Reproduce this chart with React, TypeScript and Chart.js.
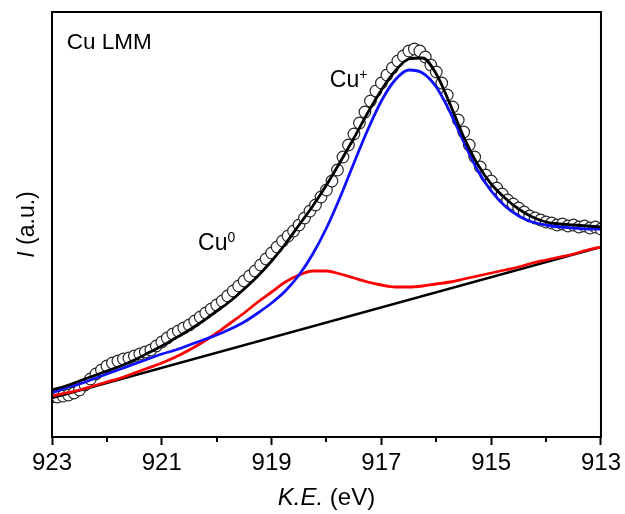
import React, { useEffect, useRef } from "react";
import { Chart, registerables } from "chart.js";

Chart.register(...registerables);

const FONT = "'Liberation Sans', Arial, Helvetica, sans-serif";

// ---- axis ----
const X_MIN = 913;
const X_MAX = 923;
const Y_MIN = 0;
const Y_MAX = 425;
const MAJOR_TICKS = [923, 921, 919, 917, 915, 913];
const MINOR_TICKS = [922, 920, 918, 916, 914];

// ---- fitted curves, sampled every 0.25 eV from 923 to 913 ----
const LINE_ENERGIES = [
  923, 922.75, 922.5, 922.25, 922, 921.75, 921.5, 921.25, 921, 920.75,
  920.5, 920.25, 920, 919.75, 919.5, 919.25, 919, 918.75, 918.5, 918.25,
  918, 917.75, 917.5, 917.25, 917, 916.75, 916.5, 916.25, 916, 915.75,
  915.5, 915.25, 915, 914.75, 914.5, 914.25, 914, 913.75, 913.5, 913.25, 913,
];
const FIT_ENVELOPE = [
  47, 51, 56, 61, 66, 71, 77, 84, 91, 99,
  107, 116, 126, 136, 148, 161, 176, 193, 212, 231,
  252, 275, 299, 324, 347, 366, 378, 379, 363, 333,
  300, 273, 253, 239, 228, 220, 215, 213, 212, 211, 210,
];
const CU_PLUS = [
  44, 49, 53, 58, 63, 68, 73, 78, 83, 87,
  92, 97, 102, 108, 115, 124, 134, 146, 162, 183,
  209, 240, 274, 307, 336, 357, 367, 364, 350, 325,
  295, 267, 246, 231, 221, 215, 212, 210, 209, 208, 208,
];
const CU_ZERO = [
  41, 44, 47, 51, 55, 59, 64, 69, 74, 80,
  87, 95, 104, 114, 124, 135, 145, 155, 162, 166,
  166, 163, 159, 155, 152, 150, 150, 151, 153, 155,
  158, 161, 164, 167, 170, 174, 177, 180, 183, 187, 190,
];
const BASELINE_X = [923, 913];
const BASELINE_Y = [39, 190];

// ---- measured spectrum, every 0.1 eV from 923.0 to 913.0 ----
const DATA_ENERGIES = [
  923.0, 922.9, 922.8, 922.7, 922.6, 922.5, 922.4, 922.3, 922.2, 922.1,
  922.0, 921.9, 921.8, 921.7, 921.6, 921.5, 921.4, 921.3, 921.2, 921.1,
  921.0, 920.9, 920.8, 920.7, 920.6, 920.5, 920.4, 920.3, 920.2, 920.1,
  920.0, 919.9, 919.8, 919.7, 919.6, 919.5, 919.4, 919.3, 919.2, 919.1,
  919.0, 918.9, 918.8, 918.7, 918.6, 918.5, 918.4, 918.3, 918.2, 918.1,
  918.0, 917.9, 917.8, 917.7, 917.6, 917.5, 917.4, 917.3, 917.2, 917.1,
  917.0, 916.9, 916.8, 916.7, 916.6, 916.5, 916.4, 916.3, 916.2, 916.1,
  916.0, 915.9, 915.8, 915.7, 915.6, 915.5, 915.4, 915.3, 915.2, 915.1,
  915.0, 914.9, 914.8, 914.7, 914.6, 914.5, 914.4, 914.3, 914.2, 914.1,
  914.0, 913.9, 913.8, 913.7, 913.6, 913.5, 913.4, 913.3, 913.2, 913.1, 913.0,
];
const DATA_COUNTS = [
  40, 40, 41, 42, 44, 47, 52, 58, 63, 67,
  71, 74, 76, 78, 79, 81, 83, 85, 87, 91,
  95, 99, 103, 106, 109, 112, 116, 120, 124, 128,
  132, 136, 141, 146, 151, 156, 161, 166, 172, 178,
  184, 190, 196, 201, 206, 212, 219, 226, 232, 240,
  247, 256, 267, 280, 292, 303, 314, 325, 336, 346,
  354, 362, 369, 376, 381, 386, 388, 386, 380, 372,
  365, 354, 342, 330, 317, 305, 292, 280, 270, 262,
  256, 249, 243, 237, 233, 229, 225, 221, 219, 217,
  215, 214, 212, 213, 211, 212, 210, 211, 209, 210, 208,
];

// ---- texts ----
const PANEL_LABEL = "Cu LMM";
const PEAK_LABELS = [
  { base: "Cu", sup: "+", x: 917.94, y: 350 },
  { base: "Cu", sup: "0", x: 920.34, y: 187 },
];
const PANEL_LABEL_POS = { x: 922.73, y: 388 };
const X_TITLE = [
  { t: "K.E.", italic: true, size: 24 },
  { t: " (eV)", italic: false, size: 24 },
];
const Y_TITLE = [
  { t: "I", italic: true, size: 23 },
  { t: " (a.u.)", italic: false, size: 23 },
];

const toXY = (xs: number[], ys: number[]) => xs.map((x, i) => ({ x, y: ys[i] }));

type Run = { t: string; italic?: boolean; size?: number; dy?: number };

function drawRuns(ctx: CanvasRenderingContext2D, runs: Run[], x: number, y: number, align: "left" | "center") {
  const fontFor = (r: Run) => `${r.italic ? "italic " : ""}${r.size ?? 23}px ${FONT}`;
  let total = 0;
  runs.forEach((r) => {
    ctx.font = fontFor(r);
    total += ctx.measureText(r.t).width;
  });
  let cx = align === "center" ? x - total / 2 : x;
  ctx.textAlign = "left";
  ctx.textBaseline = "alphabetic";
  runs.forEach((r) => {
    ctx.font = fontFor(r);
    ctx.fillText(r.t, cx, y + (r.dy ?? 0));
    cx += ctx.measureText(r.t).width;
  });
}

const decorPlugin = {
  id: "decor",
  afterDraw(chart: any) {
    const { ctx, chartArea: ca, scales } = chart;
    const xs = scales.x;
    const ys = scales.y;
    ctx.save();
    ctx.strokeStyle = "#000";
    ctx.lineWidth = 2;
    ctx.strokeRect(ca.left, ca.top, ca.right - ca.left, ca.bottom - ca.top);
    // minor ticks
    MINOR_TICKS.forEach((v) => {
      const px = Math.round(xs.getPixelForValue(v));
      ctx.beginPath();
      ctx.moveTo(px, ca.bottom);
      ctx.lineTo(px, ca.bottom + 5);
      ctx.stroke();
    });
    ctx.fillStyle = "#000";
    // panel label
    drawRuns(ctx, [{ t: PANEL_LABEL, size: 22.5 }], xs.getPixelForValue(PANEL_LABEL_POS.x), ys.getPixelForValue(PANEL_LABEL_POS.y), "left");
    // peak labels
    PEAK_LABELS.forEach((p) => {
      drawRuns(
        ctx,
        [{ t: p.base }, { t: p.sup, size: 14, dy: -8 }],
        xs.getPixelForValue(p.x),
        ys.getPixelForValue(p.y),
        "left"
      );
    });
    // x title
    drawRuns(ctx, X_TITLE, (ca.left + ca.right) / 2, ca.bottom + 68, "center");
    // y title
    ctx.save();
    ctx.translate(ca.left - 18, (ca.top + ca.bottom) / 2);
    ctx.rotate(-Math.PI / 2);
    drawRuns(ctx, Y_TITLE, 0, 0, "center");
    ctx.restore();
    ctx.restore();
  },
};

export default function App() {
  const ref = useRef<HTMLCanvasElement | null>(null);
  useEffect(() => {
    if (!ref.current) return;
    const lineDs = (label: string, ys: number[], color: string, order: number, width = 2.8) => ({
      type: "line" as const,
      label,
      data: toXY(LINE_ENERGIES, ys),
      borderColor: color,
      backgroundColor: color,
      borderWidth: width,
      pointRadius: 0,
      cubicInterpolationMode: "monotone" as const,
      fill: false,
      order,
      clip: 0,
    });
    const chart = new Chart(ref.current, {
      type: "scatter",
      data: {
        datasets: [
          {
            type: "scatter",
            label: "Data",
            data: toXY(DATA_ENERGIES, DATA_COUNTS),
            pointRadius: 5.8,
            pointBorderWidth: 1.2,
            pointBorderColor: "#2a2a2a",
            pointBackgroundColor: "#ffffff",
            showLine: false,
            order: 10,
            clip: 0,
          } as any,
          {
            type: "line",
            label: "Background",
            data: toXY(BASELINE_X, BASELINE_Y),
            borderColor: "#000",
            borderWidth: 2.6,
            pointRadius: 0,
            fill: false,
            order: 5,
            clip: 0,
          },
          lineDs("Cu0", CU_ZERO, "#ff0000", 4),
          lineDs("Cu+", CU_PLUS, "#1010ff", 3),
          lineDs("Fit", FIT_ENVELOPE, "#000000", 2),
        ],
      },
      options: {
        animation: false,
        responsive: false,
        devicePixelRatio: 1,
        layout: { padding: { left: 0, right: 24, top: 12, bottom: 0 } },
        plugins: { legend: { display: false }, tooltip: { enabled: false } },
        scales: {
          x: {
            type: "linear",
            min: X_MIN,
            max: X_MAX,
            reverse: true,
            afterBuildTicks: (scale: any) => {
              scale.ticks = MAJOR_TICKS.map((v) => ({ value: v }));
            },
            afterFit: (scale: any) => {
              scale.height = 77;
            },
            grid: {
              drawOnChartArea: false,
              drawTicks: true,
              tickLength: 8,
              tickWidth: 2,
              tickColor: "#000",
            },
            border: { display: true, color: "#000", width: 2 },
            ticks: {
              autoSkip: false,
              maxRotation: 0,
              padding: 4,
              color: "#000",
              font: { family: FONT, size: 24 },
              callback: (v: any) => String(v),
            },
          },
          y: {
            type: "linear",
            min: Y_MIN,
            max: Y_MAX,
            afterFit: (scale: any) => {
              scale.width = 52;
            },
            grid: { display: false, drawTicks: false },
            border: { display: true, color: "#000", width: 2 },
            ticks: { display: false },
          },
        },
      },
      plugins: [decorPlugin],
    } as any);
    return () => chart.destroy();
  }, []);
  return (
    <div style={{ position: "absolute", left: 0, top: 0, width: 625, height: 514, background: "#fff" }}>
      <canvas ref={ref} width={625} height={514} style={{ width: 625, height: 514, display: "block" }} />
    </div>
  );
}
